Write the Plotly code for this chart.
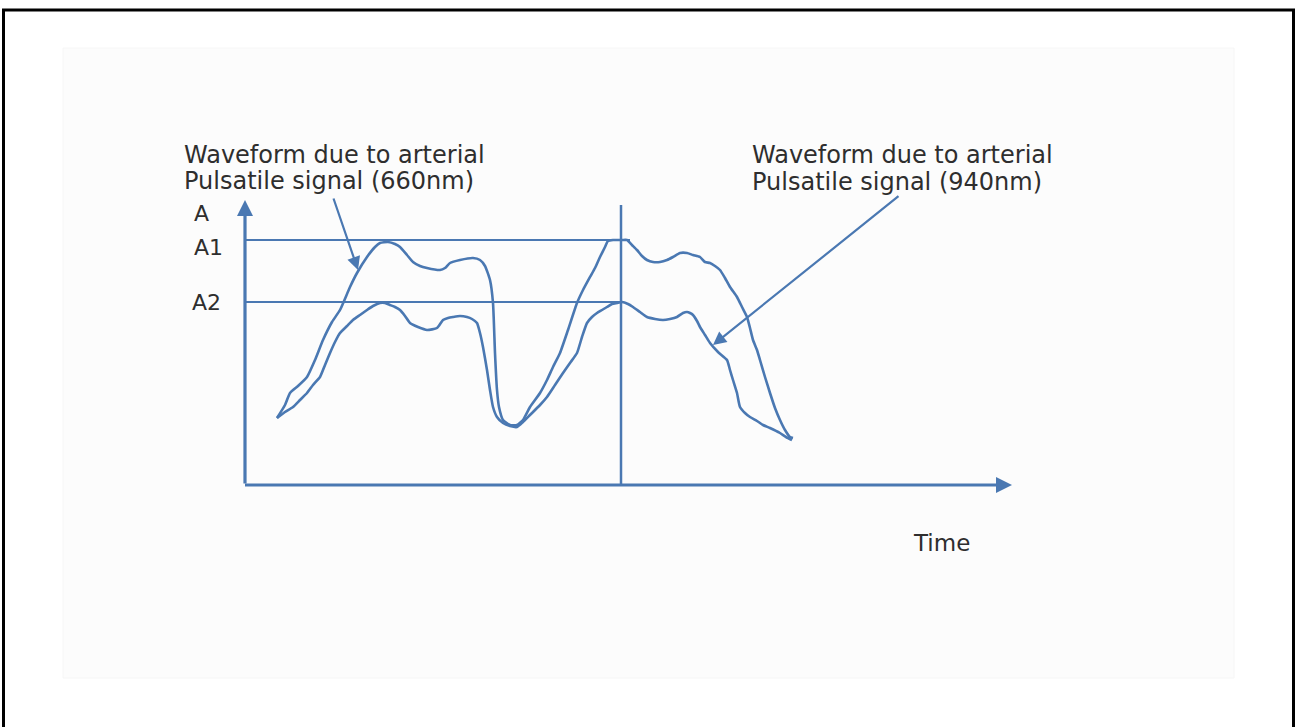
import plotly.graph_objects as go

# ---- data (time units, amplitude units) ----
t_660 = [3.2, 4.0, 4.5, 5.3, 6.2, 7.0, 7.8, 8.7, 9.5, 10.5, 11.2, 12.2, 13.0, 13.5, 14.3, 15.0, 15.5, 16.2,
         16.8, 17.5, 18.2, 19.5, 20.0, 20.5, 21.5, 22.8, 23.5, 24.0, 24.5, 24.8, 25.0, 25.2, 25.4, 25.8,
         26.5, 27.2, 27.8, 28.5, 29.5, 30.2, 30.8, 31.5, 32.3, 33.2, 33.8, 34.5, 35.0, 35.5, 36.0, 36.3,
         36.8, 37.7, 38.2, 38.7, 39.2, 39.7, 40.2, 40.8, 41.5, 42.2, 42.8, 43.5, 44.2, 44.8, 45.5, 46.0,
         46.5, 47.0, 47.5, 48.0, 48.5, 49.2, 49.7, 50.2, 50.5, 50.8, 51.2, 51.5, 52.0, 52.5, 53.0, 53.5,
         54.0, 54.5, 54.8]
a_660 = [6.7, 8.0, 9.2, 9.9, 10.8, 12.5, 14.5, 16.3, 17.5, 19.8, 21.2, 22.8, 23.8, 24.2, 24.3, 24.1, 23.8, 23.0,
         22.3, 21.9, 21.7, 21.5, 21.7, 22.2, 22.5, 22.7, 22.5, 21.9, 20.5, 18.2, 13.2, 9.5, 7.8, 6.5,
         6.0, 6.0, 6.5, 7.8, 9.2, 10.5, 11.8, 13.2, 15.5, 18.2, 19.5, 20.8, 21.7, 22.8, 23.8, 24.4,
         24.5, 24.5, 24.5, 24.0, 23.5, 22.9, 22.5, 22.3, 22.3, 22.5, 22.8, 23.2, 23.2, 23.0, 22.8, 22.3,
         22.2, 21.9, 21.5, 20.7, 19.8, 18.8, 17.8, 16.8, 15.7, 14.5, 13.5, 12.5, 10.8, 9.2, 7.7, 6.5,
         5.5, 4.8, 4.7]

t_940 = [3.2, 4.0, 4.8, 5.5, 6.2, 6.8, 7.5, 8.0, 8.5, 9.0, 9.5, 10.2, 10.8, 11.5, 12.2, 12.8, 13.5, 14.0,
         14.5, 15.0, 15.5, 16.0, 16.5, 17.3, 18.2, 19.2, 19.8, 20.3, 20.8, 21.5, 22.2, 22.7, 23.2, 23.5,
         23.8, 24.2, 24.5, 24.8, 25.2, 25.8, 26.5, 27.2, 27.8, 28.5, 29.5, 30.2, 31.0, 31.8, 32.5, 33.2,
         33.7, 34.2, 34.7, 35.2, 35.7, 36.2, 36.7, 37.2, 37.7, 38.3, 38.8, 39.5, 40.2, 41.0, 41.8, 42.5,
         43.2, 43.8, 44.2, 44.5, 44.8, 45.2, 45.5, 46.0, 46.5, 47.3, 48.2, 48.5, 48.8, 49.2, 49.5, 50.0,
         50.5, 51.2, 51.8, 52.5, 53.5, 54.1, 54.7]
a_940 = [6.7, 7.3, 7.8, 8.5, 9.2, 10.0, 10.8, 12.0, 13.2, 14.3, 15.2, 15.9, 16.5, 17.0, 17.5, 17.9, 18.2, 18.2,
         18.0, 17.8, 17.5, 16.9, 16.2, 15.8, 15.5, 15.7, 16.5, 16.7, 16.8, 16.9, 16.8, 16.6, 16.2, 15.2,
         13.8, 11.5, 9.5, 7.8, 6.8, 6.2, 5.9, 5.8, 6.3, 7.0, 8.0, 8.8, 10.0, 11.2, 12.2, 13.2,
         14.8, 16.2, 16.8, 17.2, 17.5, 17.8, 18.1, 18.2, 18.3, 18.1, 17.8, 17.3, 16.8, 16.6, 16.5, 16.6,
         16.8, 17.2, 17.3, 17.2, 17.0, 16.4, 15.8, 15.0, 14.2, 13.3, 12.5, 11.5, 10.5, 9.2, 7.8, 7.2,
         6.8, 6.4, 6.0, 5.7, 5.2, 4.8, 4.5]

A1_level = 24.5
A2_level = 18.3
A1_end = 38.5
marker_time = 37.6
marker_top = 28.0
y_axis_top = 28.5
x_axis_end = 76.7

tick_labels = ["A", "A1", "A2"]
tick_label_pos = [(-5.3, 27.2), (-5.3, 23.8), (-5.5, 18.3)]
time_label = "Time"
time_label_pos = (66.6, -5.8)
label_660 = ["Waveform due to arterial", "Pulsatile signal (660nm)"]
label_660_pos = [(-6.3, 33.0), (-6.3, 30.4)]
label_940 = ["Waveform due to arterial", "Pulsatile signal (940nm)"]
label_940_pos = [(50.5, 33.0), (50.5, 30.3)]
pointer_660 = ((8.8, 28.8), (11.3, 21.5))   # (tail, head)
pointer_940 = ((65.5, 29.0), (46.8, 14.0))

BLUE = "#4a78b2"
TXT = "#2e2e2e"
FONT = "DejaVu Sans"

fig = go.Figure()

# reference lines
fig.add_trace(go.Scatter(x=[0, A1_end], y=[A1_level, A1_level], mode="lines",
                         line=dict(color=BLUE, width=2.2), hoverinfo="skip"))
fig.add_trace(go.Scatter(x=[0, marker_time], y=[A2_level, A2_level], mode="lines",
                         line=dict(color=BLUE, width=2.2), hoverinfo="skip"))
fig.add_trace(go.Scatter(x=[marker_time, marker_time], y=[0, marker_top], mode="lines",
                         line=dict(color=BLUE, width=2.5), hoverinfo="skip"))

# waveforms
fig.add_trace(go.Scatter(x=t_660, y=a_660, mode="lines", line=dict(color=BLUE, width=2.6, shape="spline", smoothing=0.5),
                         hoverinfo="skip"))
fig.add_trace(go.Scatter(x=t_940, y=a_940, mode="lines", line=dict(color=BLUE, width=2.6, shape="spline", smoothing=0.5),
                         hoverinfo="skip"))

anns = []
# axes with arrow heads
anns.append(dict(x=0, y=y_axis_top, ax=0, ay=0, xref="x", yref="y", axref="x", ayref="y",
                 text="", showarrow=True, arrowhead=2, arrowsize=1.0, arrowwidth=3.2, arrowcolor=BLUE))
anns.append(dict(x=x_axis_end, y=0, ax=-0.15, ay=0, xref="x", yref="y", axref="x", ayref="y",
                 text="", showarrow=True, arrowhead=2, arrowsize=1.0, arrowwidth=3.2, arrowcolor=BLUE))
# pointers
for tail, head in (pointer_660, pointer_940):
    anns.append(dict(x=head[0], y=head[1], ax=tail[0], ay=tail[1], xref="x", yref="y", axref="x", ayref="y",
                     text="", showarrow=True, arrowhead=2, arrowsize=1.2, arrowwidth=2.2, arrowcolor=BLUE))

for txt, (x, y) in zip(tick_labels, tick_label_pos):
    anns.append(dict(x=x, y=y, xref="x", yref="y", text=txt, showarrow=False, xanchor="left", yanchor="middle",
                     font=dict(family=FONT, size=22, color=TXT)))
anns.append(dict(x=time_label_pos[0], y=time_label_pos[1], xref="x", yref="y", text=time_label, showarrow=False,
                 xanchor="left", yanchor="middle", font=dict(family=FONT, size=23, color=TXT)))
for lines, poss in ((label_660, label_660_pos), (label_940, label_940_pos)):
    for txt, (x, y) in zip(lines, poss):
        anns.append(dict(x=x, y=y, xref="x", yref="y", text=txt, showarrow=False, xanchor="left",
                         yanchor="middle", font=dict(family=FONT, size=24, color=TXT)))

shapes = [
    dict(type="rect", xref="paper", yref="paper", x0=63/1296, x1=1234/1296, y0=1-678/727, y1=1-48/727,
         fillcolor="#fcfcfc", line=dict(color="#f6f6f6", width=1), layer="below"),
    dict(type="rect", xref="paper", yref="paper", x0=3.5/1296, x1=1293.5/1296, y0=-0.05, y1=1-10/727,
         fillcolor="rgba(0,0,0,0)", line=dict(color="black", width=3), layer="above"),
]

fig.update_layout(
    width=1296, height=727,
    margin=dict(l=0, r=0, t=0, b=0),
    paper_bgcolor="white", plot_bgcolor="rgba(0,0,0,0)",
    showlegend=False,
    xaxis=dict(range=[-24.5, 105.1], visible=False, fixedrange=True),
    yaxis=dict(range=[-24.2, 48.5], visible=False, fixedrange=True),
    annotations=anns, shapes=shapes,
)

fig.write_html("out.html", config={"displayModeBar": False},
               post_script="document.body.style.margin='0';document.body.style.overflow='hidden';")
